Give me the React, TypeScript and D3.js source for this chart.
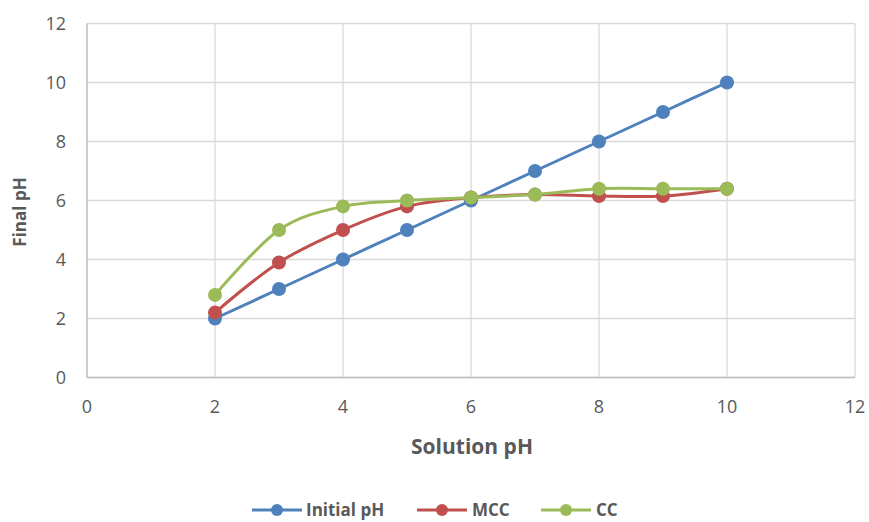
import React from "react";
import * as d3 from "d3";

const xValues = [2, 3, 4, 5, 6, 7, 8, 9, 10];
const initialPH = [2, 3, 4, 5, 6, 7, 8, 9, 10];
const mccPH = [2.2, 3.9, 5.0, 5.8, 6.1, 6.2, 6.15, 6.15, 6.4];
const ccPH = [2.8, 5.0, 5.8, 6.0, 6.1, 6.2, 6.4, 6.4, 6.4];
const xTicks = [0, 2, 4, 6, 8, 10, 12];
const yTicks = [0, 2, 4, 6, 8, 10, 12];
const seriesNames = ["Initial pH", "MCC", "CC"];
const seriesColors = ["#4F81BD", "#C0504D", "#9BBB59"];

export default function App() {
  const W = 869, H = 522;
  const x = d3.scaleLinear().domain([0, 12]).range([87, 855]);
  const y = d3.scaleLinear().domain([0, 12]).range([377.5, 23.5]);
  const series = [initialPH, mccPH, ccPH];
  const line = d3
    .line<[number, number]>()
    .x((d) => x(d[0]))
    .y((d) => y(d[1]))
    .curve(d3.curveCardinal.tension(0));
  const font = "'Open Sans', sans-serif";
  const legendY = 510;
  const legendItems = [
    { x0: 252, tx: 306 },
    { x0: 417, tx: 472 },
    { x0: 541, tx: 596 },
  ];
  return (
    <svg
      width={W}
      height={H}
      style={{ position: "absolute", left: 0, top: 0, background: "#fff" }}
      fontFamily={font}
    >
      {yTicks.map((t) => (
        <line key={"h" + t} x1={x(0)} x2={x(12)} y1={y(t)} y2={y(t)} stroke="#D9D9D9" strokeWidth={1.3} />
      ))}
      {xTicks.map((t) => (
        <line key={"v" + t} x1={x(t)} x2={x(t)} y1={y(0)} y2={y(12)} stroke="#D9D9D9" strokeWidth={1.3} />
      ))}
      <line x1={x(0)} x2={x(0)} y1={y(0)} y2={y(12)} stroke="#BFBFBF" strokeWidth={1.3} />
      <line x1={x(0)} x2={x(12)} y1={y(0)} y2={y(0)} stroke="#BFBFBF" strokeWidth={1.3} />
      {yTicks.map((t) => (
        <text key={"yt" + t} x={66} y={y(t)} dy="0.36em" textAnchor="end" fontSize={18} fill="#595959">
          {t}
        </text>
      ))}
      {xTicks.map((t) => (
        <text key={"xt" + t} x={x(t)} y={407} dy="0.36em" textAnchor="middle" fontSize={18} fill="#595959">
          {t}
        </text>
      ))}
      <text x={472} y={446} dy="0.36em" textAnchor="middle" fontSize={21} fontWeight="bold" fill="#595959">
        Solution pH
      </text>
      <text
        transform={`translate(20,212) rotate(-90)`}
        dy="0.36em"
        textAnchor="middle"
        fontSize={17}
        fontWeight="bold"
        fill="#595959"
      >
        Final pH
      </text>
      {series.map((s, i) => {
        const pts: [number, number][] = xValues.map((xv, j) => [xv, s[j]]);
        return (
          <g key={"s" + i}>
            <path d={line(pts) || ""} fill="none" stroke={seriesColors[i]} strokeWidth={3} />
            {pts.map((p, j) => (
              <circle key={j} cx={x(p[0])} cy={y(p[1])} r={7} fill={seriesColors[i]} />
            ))}
          </g>
        );
      })}
      {legendItems.map((it, i) => (
        <g key={"l" + i}>
          <line x1={it.x0} x2={it.x0 + 50} y1={legendY} y2={legendY} stroke={seriesColors[i]} strokeWidth={3} />
          <circle cx={it.x0 + 25} cy={legendY} r={6} fill={seriesColors[i]} />
          <text x={it.tx} y={legendY} dy="0.36em" fontSize={17} fontWeight="bold" fill="#595959">
            {seriesNames[i]}
          </text>
        </g>
      ))}
    </svg>
  );
}
